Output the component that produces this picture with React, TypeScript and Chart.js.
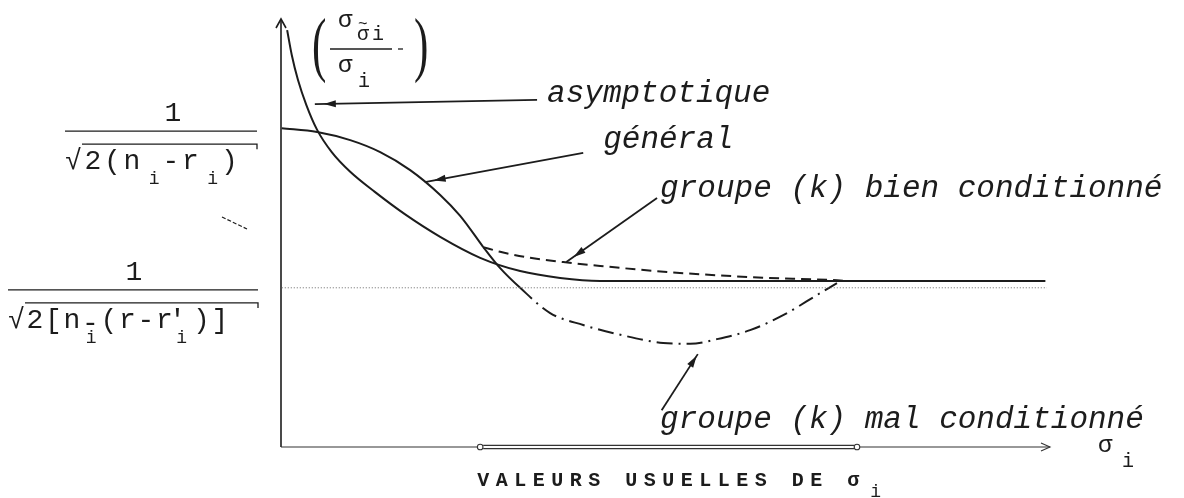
import React, { useEffect, useRef } from "react";
import { Chart, registerables } from "chart.js";

Chart.register(...registerables);

// ---- data (x: sigma_i, arbitrary units 0..100 ; y: sigma ratio, arbitrary units 0..100) ----
const asymX = [0.8, 1.4, 2.2, 3.3, 4.7, 6.6, 9.0, 12.2, 16.1, 20.7, 25.9, 31.1, 36.3, 41.5, 46.7, 99.4];
const asymY = [97.4, 91.6, 85.8, 79.9, 74.1, 68.9, 64.3, 59.6, 54.4, 49.1, 44.2, 41.1, 39.5, 38.8, 38.8, 38.8];

const generalX = [0.1, 4.7, 9.0, 12.9, 16.8, 20.7, 23.3, 26.3];
const generalY = [74.5, 73.6, 71.7, 68.9, 64.7, 58.9, 54.0, 46.7];

const bienX = [26.3, 28.5, 32.4, 36.7, 41.5, 50.2, 61.0, 71.8, 73.7];
const bienY = [46.7, 45.6, 44.2, 43.2, 42.3, 40.9, 39.7, 39.0, 38.8];

const malX = [26.3, 28.5, 31.1, 35.0, 39.3, 43.7, 49.7, 53.2, 56.7, 61.0, 65.3, 69.7, 72.3];
const malY = [46.7, 41.8, 37.2, 31.3, 28.5, 26.4, 24.3, 24.1, 25.2, 27.3, 30.8, 35.5, 38.3];

const floorX = [0.1, 99.6];
const floorY = [37.2, 37.2];

const levelGeneral = 73.8; // 1 / sqrt(2(n_i - r_i))
const levelFloor = 36.7; // 1 / sqrt(2[n_i - (r - r'_i)])
const usualRange = [25.9, 74.9];

const noteTexts = ["asymptotique", "général", "groupe (k) bien conditionné", "groupe (k) mal conditionné"];
const noteTail = [[33.3, 81.1], [39.3, 68.7], [48.9, 58.2], [49.5, 8.6]];
const noteHead = [[4.4, 80.1], [18.7, 61.9], [37.1, 43.2], [54.2, 21.7]];
const noteAt = [[34.6, 80.6], [41.9, 69.9], [49.3, 58.4], [49.3, 4.4]];

// ---- styling ----
const INK = "#1c1c1c";
const MONO = "'Liberation Mono', 'DejaVu Sans Mono', monospace";

const pts = (xs: number[], ys: number[]) => xs.map((x, i) => ({ x, y: ys[i] }));

function arrowHead(ctx: CanvasRenderingContext2D, x1: number, y1: number, x2: number, y2: number, back: number, len: number, half: number) {
  const a = Math.atan2(y2 - y1, x2 - x1);
  const c = Math.cos(a), s = Math.sin(a);
  const tx = x2 - c * back, ty = y2 - s * back;
  ctx.beginPath();
  ctx.moveTo(tx, ty);
  ctx.lineTo(tx - c * len + s * half, ty - s * len - c * half);
  ctx.lineTo(tx - c * len - s * half, ty - s * len + c * half);
  ctx.closePath();
  ctx.fill();
}

function line(ctx: CanvasRenderingContext2D, x1: number, y1: number, x2: number, y2: number) {
  ctx.beginPath();
  ctx.moveTo(x1, y1);
  ctx.lineTo(x2, y2);
  ctx.stroke();
}

type Glyph = [string, number, number]; // char, position, vertical offset kind (0 main, 1 sub, 2 low minus)

const overlay = {
  id: "overlay",
  beforeDatasetsDraw(chart: any) {
    const ctx: CanvasRenderingContext2D = chart.ctx;
    const xs = chart.scales.x, ys = chart.scales.y;
    const X = (v: number) => xs.getPixelForValue(v);
    const Y = (v: number) => ys.getPixelForValue(v);
    const ax = X(0), ay = Y(0);
    ctx.save();
    ctx.strokeStyle = INK;
    ctx.fillStyle = INK;
    ctx.lineCap = "butt";
    // y axis
    ctx.lineWidth = 1.6;
    line(ctx, ax, ay, ax, Y(100));
    ctx.beginPath();
    ctx.moveTo(ax - 5, Y(100) + 9);
    ctx.lineTo(ax, Y(100));
    ctx.lineTo(ax + 5, Y(100) + 9);
    ctx.stroke();
    // x axis
    const u0 = X(usualRange[0]), u1 = X(usualRange[1]), xe = X(100);
    ctx.lineWidth = 1.1;
    ctx.strokeStyle = "#333";
    line(ctx, ax, ay, u0 - 3, ay);
    line(ctx, u1 + 3, ay, xe, ay);
    line(ctx, u0 + 3, ay - 1.6, u1 - 3, ay - 1.6);
    line(ctx, u0 + 3, ay + 1.6, u1 - 3, ay + 1.6);
    ctx.beginPath(); ctx.arc(u0, ay, 2.8, 0, Math.PI * 2); ctx.stroke();
    ctx.beginPath(); ctx.arc(u1, ay, 2.8, 0, Math.PI * 2); ctx.stroke();
    ctx.beginPath();
    ctx.moveTo(xe - 9, ay - 4);
    ctx.lineTo(xe, ay);
    ctx.lineTo(xe - 9, ay + 4);
    ctx.stroke();
    ctx.restore();
  },
  afterDraw(chart: any) {
    const ctx: CanvasRenderingContext2D = chart.ctx;
    const xs = chart.scales.x, ys = chart.scales.y;
    const X = (v: number) => xs.getPixelForValue(v);
    const Y = (v: number) => ys.getPixelForValue(v);
    const ax = X(0), ay = Y(0);
    ctx.save();
    ctx.fillStyle = INK;
    ctx.strokeStyle = INK;
    ctx.textBaseline = "alphabetic";

    // ---- annotations with arrows ----
    ctx.font = `italic 31px ${MONO}`;
    ctx.lineWidth = 1.8;
    noteTexts.forEach((t, i) => {
      const tx = X(noteTail[i][0]), ty = Y(noteTail[i][1]);
      const hx = X(noteHead[i][0]), hy = Y(noteHead[i][1]);
      line(ctx, tx, ty, hx, hy);
      arrowHead(ctx, tx, ty, hx, hy, i === 3 ? 2 : 9, 12, 3.5);
      ctx.textAlign = "left";
      ctx.fillText(t, X(noteAt[i][0]), Y(noteAt[i][1]));
    });

    // ---- left level labels ----
    const drawLevel = (barY: number, x0: number, x1: number, step: number, chars: Glyph[], numX: number) => {
      ctx.lineWidth = 1.4;
      line(ctx, x0, barY, x1, barY);
      ctx.textAlign = "center";
      ctx.font = `28px ${MONO}`;
      ctx.fillText("1", numX, barY - 10);
      ctx.textAlign = "left";
      chars.forEach(([c, p, kind]) => {
        ctx.font = kind === 1 ? `18px ${MONO}` : `28px ${MONO}`;
        const dy = kind === 1 ? 53 : kind === 2 ? 41 : 38;
        ctx.fillText(c, x0 + p * step, barY + dy);
      });
      ctx.lineWidth = 1.3;
      ctx.beginPath();
      ctx.moveTo(x0 + 17, barY + 13);
      ctx.lineTo(x1, barY + 13);
      ctx.lineTo(x1, barY + 18);
      ctx.stroke();
    };
    drawLevel(Y(levelGeneral), 65, 257, 19.5, [
      ["√", 0, 0], ["2", 1, 0], ["(", 2, 0], ["n", 3, 0], ["i", 4.3, 1],
      ["-", 5, 0], ["r", 6, 0], ["i", 7.3, 1], [")", 8, 0],
    ], 173);
    drawLevel(Y(levelFloor), 8, 258, 18.5, [
      ["√", 0, 0], ["2", 1, 0], ["[", 2, 0], ["n", 3, 0], ["-", 4, 2], ["i", 4.2, 1],
      ["(", 5, 0], ["r", 6, 0], ["-", 7, 0], ["r", 8, 0], ["'", 8.7, 0], ["i", 9.1, 1],
      [")", 10, 0], ["]", 11, 0],
    ], 134);

    // stray scan mark
    ctx.lineWidth = 1.2;
    ctx.setLineDash([4, 2]);
    line(ctx, 222, 217, 247, 229);
    ctx.setLineDash([]);

    // ---- y axis label (sigma ratio) ----
    const lx = ax + 31;
    ctx.save();
    ctx.font = "72px 'Liberation Serif', serif";
    ctx.translate(lx, 68);
    ctx.scale(0.6, 1);
    ctx.fillText("(", 0, 0);
    ctx.restore();
    ctx.save();
    ctx.font = "72px 'Liberation Serif', serif";
    ctx.translate(lx + 102, 68);
    ctx.scale(0.6, 1);
    ctx.fillText(")", 0, 0);
    ctx.restore();
    ctx.font = `24px ${MONO}`;
    ctx.fillText("σ", lx + 26, 27);
    ctx.font = `20px ${MONO}`;
    ctx.fillText("σ", lx + 45, 40);
    ctx.fillText("i", lx + 60, 40);
    ctx.font = `16px ${MONO}`;
    ctx.fillText("~", lx + 46, 29);
    ctx.lineWidth = 1.3;
    line(ctx, lx + 18, 49, lx + 80, 49);
    line(ctx, lx + 86, 49, lx + 91, 49);
    ctx.font = `24px ${MONO}`;
    ctx.fillText("σ", lx + 26, 72);
    ctx.font = `20px ${MONO}`;
    ctx.fillText("i", lx + 46, 87);

    // ---- x axis labels ----
    ctx.font = `24px ${MONO}`;
    ctx.fillText("σ", X(100) + 48, ay + 5);
    ctx.font = `20px ${MONO}`;
    ctx.fillText("i", X(100) + 72, ay + 20);

    const bottom = "VALEURS USUELLES DE σ";
    ctx.font = `bold 20px ${MONO}`;
    const bx = X(usualRange[0]) - 3;
    for (let i = 0; i < bottom.length; i++) {
      ctx.fillText(bottom[i], bx + i * 18.5, ay + 39);
    }
    ctx.font = `18px ${MONO}`;
    ctx.fillText("i", bx + 393, ay + 50);

    ctx.restore();
  },
};

export default function App() {
  const ref = useRef<HTMLCanvasElement>(null);
  useEffect(() => {
    const base = {
      showLine: true,
      pointRadius: 0,
      borderColor: INK,
      borderWidth: 2,
      fill: false,
      clip: false as any,
      cubicInterpolationMode: "monotone" as const,
    };
    const chart = new Chart(ref.current as HTMLCanvasElement, {
      type: "scatter",
      data: {
        datasets: [
          { ...base, label: "plancher", data: pts(floorX, floorY), borderWidth: 1, borderColor: "#666", borderDash: [1, 2] },
          { ...base, label: "asymptotique", data: pts(asymX, asymY) },
          { ...base, label: "général", data: pts(generalX, generalY) },
          { ...base, label: "groupe (k) bien conditionné", data: pts(bienX, bienY), borderDash: [10, 6] },
          {
            ...base,
            label: "groupe (k) mal conditionné",
            data: pts(malX, malY),
            segment: { borderDash: (c: any) => (c.p0DataIndex >= 2 ? [16, 6, 2, 6] : []) },
          },
        ] as any,
      },
      options: {
        animation: false,
        responsive: false,
        events: [],
        layout: { padding: { left: 281, right: 134, top: 19, bottom: 51 } },
        plugins: { legend: { display: false }, tooltip: { enabled: false } },
        scales: {
          x: { type: "linear", min: 0, max: 100, display: false },
          y: { type: "linear", min: 0, max: 100, display: false },
        },
      },
      plugins: [overlay],
    });
    return () => chart.destroy();
  }, []);
  return (
    <div style={{ position: "fixed", left: 0, top: 0, width: 1184, height: 498, background: "#fff" }}>
      <canvas ref={ref} width={1184} height={498} style={{ display: "block" }} />
    </div>
  );
}
